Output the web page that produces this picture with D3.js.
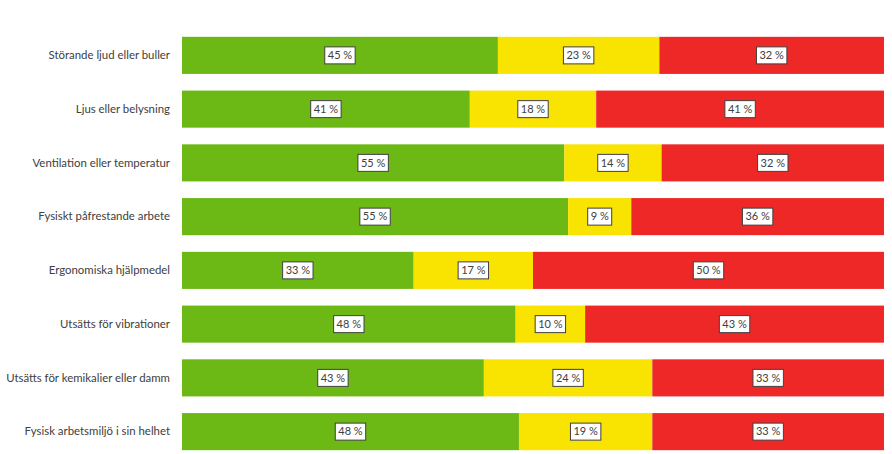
<!DOCTYPE html>
<html>
<head>
<meta charset="utf-8">
<script src="https://cdn.jsdelivr.net/npm/d3@7"></script>
<style>
  body { margin: 0; background: #fff; }
  text { font-family: Lato, "Open Sans", sans-serif; }
</style>
</head>
<body>
<script>
var categories = [
  "Störande ljud eller buller",
  "Ljus eller belysning",
  "Ventilation eller temperatur",
  "Fysiskt påfrestande arbete",
  "Ergonomiska hjälpmedel",
  "Utsätts för vibrationer",
  "Utsätts för kemikalier eller damm",
  "Fysisk arbetsmiljö i sin helhet"
];
var good = [45, 41, 55, 55, 33, 48, 43, 48];
var neutral = [23, 18, 14, 9, 17, 10, 24, 19];
var bad = [32, 41, 32, 36, 50, 43, 33, 33];
var seriesKeys = ["good", "neutral", "bad"];
var colors = ["#6cb815", "#f9e300", "#ee2727"];

var width = 892, height = 454;
var svg = d3.select("body").append("svg")
  .attr("width", width)
  .attr("height", height);

// each row normalised to its own sum (some rows round to 101 %)
var rows = categories.map(function(c, i){
  var total = good[i] + neutral[i] + bad[i];
  return {cat: c, good: good[i] / total, neutral: neutral[i] / total, bad: bad[i] / total,
    raw: {good: good[i], neutral: neutral[i], bad: bad[i]}};
});

var stack = d3.stack().keys(seriesKeys);
var stacked = stack(rows);

var x = d3.scaleLinear().domain([0, 1]).range([182, 884]);
var y = d3.scaleBand().domain(categories).range([28.5, 458.5])
  .paddingInner(0.31).paddingOuter(0.155);

var layers = svg.selectAll("g.layer")
  .data(stacked)
  .enter()
  .append("g")
  .attr("class", "layer")
  .attr("fill", function(d, i){ return colors[i]; });

layers.selectAll("rect")
  .data(function(d){ return d; })
  .enter()
  .append("rect")
  .attr("x", function(d){ return x(d[0]); })
  .attr("y", function(d){ return y(d.data.cat); })
  .attr("width", function(d){ return x(d[1]) - x(d[0]); })
  .attr("height", y.bandwidth());

// value labels in white boxes
layers.each(function(layer){
  var key = layer.key;
  var g = d3.select(this).selectAll("g.lab")
    .data(layer)
    .enter()
    .append("g")
    .attr("class", "lab")
    .attr("transform", function(d){
      return "translate(" + ((x(d[0]) + x(d[1])) / 2) + "," + (y(d.data.cat) + y.bandwidth() / 2) + ")";
    });
  g.append("rect")
    .attr("fill", "#fff")
    .attr("stroke", "#404040")
    .attr("stroke-width", 1)
    .attr("y", -8.5)
    .attr("height", 17);
  g.append("text")
    .attr("text-anchor", "middle")
    .attr("dy", "0.35em")
    .attr("font-size", 11)
    .attr("fill", "#404040")
    .text(function(d){ return d.data.raw[key] + " %"; });
  g.each(function(){
    var w = d3.select(this).select("text").node().getComputedTextLength() + 6;
    d3.select(this).select("rect").attr("x", -w / 2).attr("width", w);
  });
});

// category axis
var yAxis = d3.axisLeft(y).tickSize(0).tickPadding(12);
var ag = svg.append("g")
  .attr("transform", "translate(182,0)")
  .call(yAxis);
ag.select(".domain").remove();
ag.selectAll("text")
  .attr("font-size", 11.4)
  .attr("fill", "#404040");
</script>
</body>
</html>
